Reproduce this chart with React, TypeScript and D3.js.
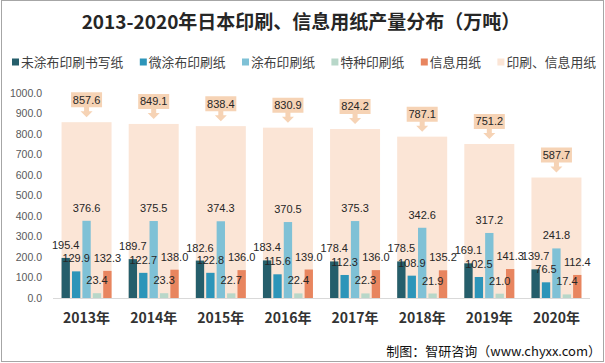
import React from "react";
import * as d3 from "d3";

const years = ["2013年", "2014年", "2015年", "2016年", "2017年", "2018年", "2019年", "2020年"];
const seriesNames = ["未涂布印刷书写纸", "微涂布印刷纸", "涂布印刷纸", "特种印刷纸", "信息用纸"];
const uncoated = [195.4, 189.7, 182.6, 183.4, 178.4, 178.5, 169.1, 139.7];
const lightCoated = [129.9, 122.7, 122.8, 115.6, 112.3, 108.9, 102.5, 76.5];
const coated = [376.6, 375.5, 374.3, 370.5, 375.3, 342.6, 317.2, 241.8];
const special = [23.4, 23.3, 22.7, 22.4, 22.3, 21.9, 21.0, 17.4];
const info = [132.3, 138.0, 136.0, 139.0, 136.0, 135.2, 141.3, 112.4];
const totalName = "印刷、信息用纸";
const total = [857.6, 849.1, 838.4, 830.9, 824.2, 787.1, 751.2, 587.7];
const yTicks = [0, 100, 200, 300, 400, 500, 600, 700, 800, 900, 1000];

const seriesValues = [uncoated, lightCoated, coated, special, info];
const colors = ["#255e6b", "#2d95b9", "#7fc1d6", "#b8d7c9", "#e8855f"];
const totalColor = "#fbe5d6";
const calloutColor = "#f6d3b5";

const W = 605;
const H = 363;
const numFont = "'Liberation Sans', Arial, sans-serif";
const cjkFont = "'Noto Sans CJK SC', 'Microsoft YaHei', sans-serif";

export default function App() {
  const x = d3.scaleBand<string>().domain(years).range([53, 590]).paddingInner(0.255).paddingOuter(0.1275);
  const x1 = d3.scaleBand<string>().domain(seriesNames).range([0, x.bandwidth()]).paddingInner(0.2);
  const y = d3.scaleLinear().domain([0, 1000]).range([298, 93]);
  const fmt = d3.format(".1f");

  const legendItems = [...seriesNames, totalName];
  const legendColors = [...colors, totalColor];
  const lf = 12.8;
  let cur = 12;
  const legendPos = legendItems.map((name) => {
    const pos = cur;
    cur += 9 + name.length * lf + 16.4;
    return pos;
  });

  return (
    <svg width={W} height={H} style={{ position: "absolute", left: 0, top: 0, background: "#fff" }}>
      <rect x={1.5} y={0.5} width={602} height={361} fill="#fff" stroke="#a6a6a6" strokeWidth={1} />
      <text x={301} y={29} textAnchor="middle" fontFamily={cjkFont} fontWeight="bold" fontSize={19} fill="#262626">
        2013-2020年日本印刷、信息用纸产量分布（万吨）
      </text>
      {legendItems.map((name, i) => (
        <g key={name}>
          <rect x={legendPos[i]} y={58.5} width={7} height={7} fill={legendColors[i]} />
          <text x={legendPos[i] + 9} y={66.8} fontFamily={cjkFont} fontSize={lf} fill="#404040">
            {name}
          </text>
        </g>
      ))}
      {yTicks.map((t) => (
        <text key={t} x={42} y={y(t) + 3.8} textAnchor="end" fontFamily={numFont} fontSize={10.5} fill="#595959">
          {fmt(t)}
        </text>
      ))}
      {total.map((v, i) => (
        <rect key={"t" + i} x={x(years[i])!} y={y(v)} width={x.bandwidth()} height={y(0) - y(v)} fill={totalColor} />
      ))}
      <line x1={53} x2={590} y1={y(0) + 0.5} y2={y(0) + 0.5} stroke="#d9d9d9" strokeWidth={1} />
      {seriesValues.map((vals, s) =>
        vals.map((v, i) => (
          <rect
            key={s + "-" + i}
            x={x(years[i])! + x1(seriesNames[s])!}
            y={y(v)}
            width={x1.bandwidth()}
            height={y(0) - y(v)}
            fill={colors[s]}
          />
        ))
      )}
      {seriesValues.map((vals, s) =>
        vals.map((v, i) => (
          <text
            key={"l" + s + "-" + i}
            x={x(years[i])! + x1(seriesNames[s])! + x1.bandwidth() / 2}
            y={y(v) - 9}
            textAnchor="middle"
            fontFamily={numFont}
            fontSize={11}
            fill="#262626"
          >
            {fmt(v)}
          </text>
        ))
      )}
      {total.map((v, i) => {
        const cx = x(years[i])! + x.bandwidth() / 2;
        const top = y(v);
        const bw = 31;
        const b1 = top - 30;
        const b2 = top - 15;
        const path = [
          `M${cx - bw / 2},${b1}`,
          `L${cx + bw / 2},${b1}`,
          `L${cx + bw / 2},${b2}`,
          `L${cx + 2.5},${b2}`,
          `L${cx + 2.5},${b2 + 4}`,
          `L${cx + 6},${b2 + 4}`,
          `L${cx},${top - 5}`,
          `L${cx - 6},${b2 + 4}`,
          `L${cx - 2.5},${b2 + 4}`,
          `L${cx - 2.5},${b2}`,
          `L${cx - bw / 2},${b2}`,
          "Z",
        ].join(" ");
        return (
          <g key={"c" + i}>
            <path d={path} fill={calloutColor} />
            <text x={cx} y={(b1 + b2) / 2 + 3.9} textAnchor="middle" fontFamily={numFont} fontSize={11} fill="#262626">
              {fmt(v)}
            </text>
          </g>
        );
      })}
      {years.map((yr) => (
        <text
          key={yr}
          x={x(yr)! + x.bandwidth() / 2}
          y={323}
          textAnchor="middle"
          fontFamily={cjkFont}
          fontWeight="bold"
          fontSize={14}
          fill="#333333"
        >
          {yr}
        </text>
      ))}
      <text x={601} y={356} textAnchor="end" fontFamily={cjkFont} fontSize={13} fill="#111111">
        制图：智研咨询（www.chyxx.com）
      </text>
    </svg>
  );
}
